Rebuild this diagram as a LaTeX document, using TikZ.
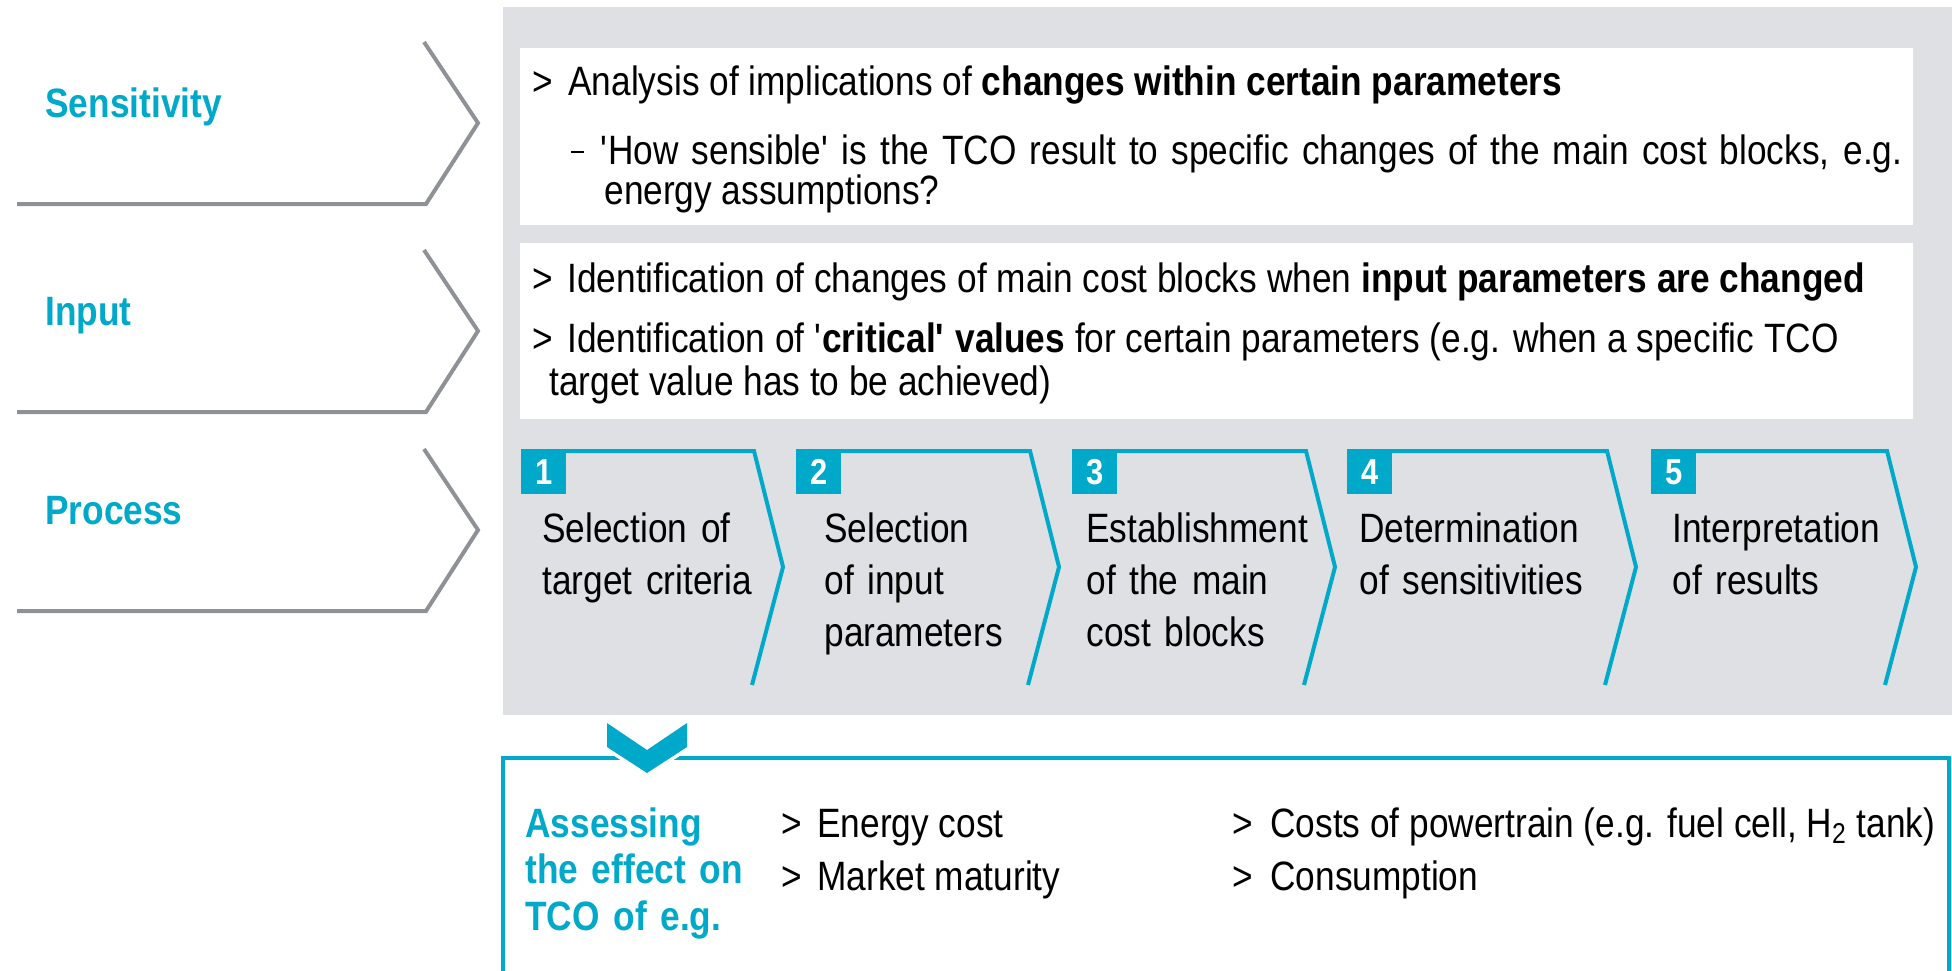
\documentclass[tikz,border=0pt]{standalone}
\usepackage{fontspec}
\setmainfont{Liberation Sans}[FakeStretch=0.86]
\usepackage{xcolor}
\usepackage{tikz}
\definecolor{tcocyan}{HTML}{00A9C9}
\definecolor{panelgray}{HTML}{DFE0E4}
\definecolor{arrowgray}{HTML}{8E9297}

\begin{document}
\begin{tikzpicture}[x=0.5pt,y=-0.5pt,
  body/.style={anchor=base west,inner sep=0pt,font=\fontsize{20.5}{26}\selectfont},
  side/.style={body,text=tcocyan,font=\fontsize{20.5}{26}\selectfont\bfseries},
  steptext/.style={body,text width=130pt,align=left},
  stepnum/.style={fill=tcocyan,text=white,minimum size=22.5pt,inner sep=0pt,anchor=north west,font=\fontsize{18}{20}\selectfont\bfseries},
  grayarrow/.style={arrowgray,line width=2pt},
  cyanline/.style={tcocyan,line width=2pt}]
\useasboundingbox (0,0) rectangle (1952,970);
% panel and text boxes
\fill[panelgray] (503,7) rectangle (1952,715);
\fill[white] (520,48) rectangle (1913,225);
\fill[white] (520,243) rectangle (1913,419);
% left side chevrons
\foreach \y/\name/\txt in {0/sens/Sensitivity,208/inp/Input,407/proc/Process}{
  \draw[grayarrow] (17,204+\y) -- (426,204+\y) -- (478,123+\y) -- (424,42+\y);
  \node[side] (\name) at (45,117+\y) {\txt};
}
% sensitivity box
\node[body] (g1) at (532,95) {>};
\node[body] (t1) at (568,95) {Analysis of implications of \textbf{changes within certain parameters}};
\node[body] (d1) at (571,164) {\rule[5.3pt]{6.5pt}{1.2pt}};
\node[body] (t2) at (600,164) {\makebox[651pt][s]{\textquotesingle How sensible\textquotesingle{} is the TCO result to specific changes of the main cost blocks, e.g.}};
\node[body] (t3) at (604,204) {energy assumptions?};
% input box
\node[body] (g2) at (532,292) {>};
\node[body] (t4) at (567,292) {Identification of changes of main cost blocks when \textbf{input parameters are changed}};
\node[body] (g3) at (532,352) {>};
\node[body] (t5) at (567,352) {Identification of \textquotesingle\textbf{critical\textquotesingle{} values} for certain parameters (e.g. when a specific TCO};
\node[body] (t6) at (549,395) {target value has to be achieved)};
% process steps
\foreach \i/\l/\r/\tx/\lines in {1/521/754/542/{Selection of\\target criteria},
    2/796/1030/824/{Selection\\of input\\parameters},
    3/1072/1306/1086/{Establishment\\of the main\\cost blocks},
    4/1347/1607/1359/{Determination\\of sensitivities},
    5/1651/1887/1672/{Interpretation\\of results}}{
  \draw[cyanline] (\l,451) -- (\r,451) -- (\r+29,567) -- (\r-2,685);
  \node[stepnum] (n\i) at (\l,449) {\i};
  \node[steptext] (s\i) at (\tx,542) {\lines};
}
% effect box
\draw[cyanline] (503,975) -- (503,758) -- (1949,758) -- (1949,975);
\filldraw[white,line width=3.5pt,line join=round] (607,723) -- (607,747) -- (647,773) -- (687,747) -- (687,723) -- (647,750) -- cycle;
\fill[tcocyan] (607,723) -- (607,747) -- (647,773) -- (687,747) -- (687,723) -- (647,750) -- cycle;
\node[steptext,text=tcocyan,font=\fontsize{20.5}{23.25}\selectfont\bfseries] (assess) at (525,837) {Assessing\\the effect on\\TCO of e.g.};
\node[body] (g4) at (781,837) {>};
\node[body] (e1) at (817,837) {Energy cost};
\node[body] (g5) at (781,890) {>};
\node[body] (e2) at (817,890) {Market maturity};
\node[body] (g6) at (1232,837) {>};
\node[body] (e3) at (1270,837) {Costs of powertrain (e.g. fuel cell, H\textsubscript{2} tank)};
\node[body] (g7) at (1232,890) {>};
\node[body] (e4) at (1270,890) {Consumption};
\end{tikzpicture}
\end{document}
